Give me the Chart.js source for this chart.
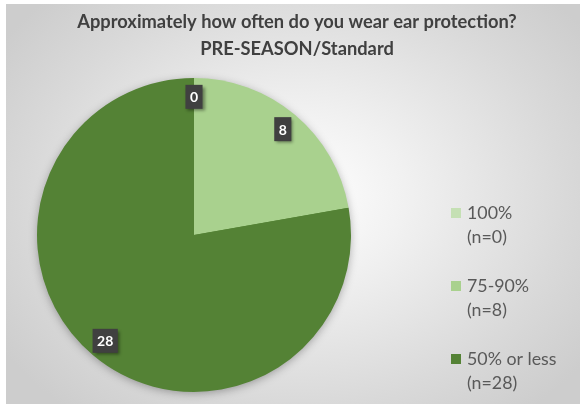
<!DOCTYPE html>
<html>
<head>
<meta charset="utf-8">
<script src="https://cdn.jsdelivr.net/npm/chart.js@4.4.1/dist/chart.umd.min.js"></script>
<style>
  html, body { margin: 0; padding: 0; background: #fff; }
  #wrap { position: relative; width: 580px; height: 404px; }
  #frame {
    position: absolute; left: 6px; top: 4px; width: 574px; height: 400px;
    background: radial-gradient(ellipse 62% 70% at 51% 48%, #ffffff 0%, #f1f1f1 30%, #d9d9d9 75%, #cdcdcd 100%);
  }
  #pieChart { position: absolute; left: 0; top: 0; }
</style>
</head>
<body>
<div id="wrap">
  <div id="frame"></div>
  <canvas id="pieChart" width="580" height="404"></canvas>
</div>
<script>
const categories = ['100%', '75-90%', '50% or less'];
const counts = [0, 8, 28];
const sliceColors = ['#c5e0b4', '#a9d18e', '#548235'];
const titleLines = ['Approximately how often do you wear ear protection?', 'PRE-SEASON/Standard'];

// soft shadow under the whole pie, drawn once before the slices
const pieShadow = {
    id: 'pieShadow',
    beforeDatasetsDraw(chart) {
        const arc = chart.getDatasetMeta(0).data[0];
        if (!arc) return;
        const { x, y, outerRadius } = arc.getProps(['x', 'y', 'outerRadius'], true);
        const ctx = chart.ctx;
        ctx.save();
        ctx.shadowColor = 'rgba(0, 0, 0, 0.35)';
        ctx.shadowBlur = 10;
        ctx.shadowOffsetY = 2;
        ctx.fillStyle = '#548235';
        ctx.beginPath();
        ctx.arc(x, y, outerRadius - 1, 0, Math.PI * 2);
        ctx.fill();
        ctx.restore();
    }
};

// dark boxed value labels, title and two-line legend
const decorations = {
    id: 'decorations',
    afterDraw(chart) {
        const ctx = chart.ctx;
        const meta = chart.getDatasetMeta(0);
        ctx.save();
        ctx.font = 'bold 14px Lato';
        ctx.textAlign = 'center';
        ctx.textBaseline = 'middle';
        meta.data.forEach((arc, i) => {
            const p = arc.getProps(['x', 'y', 'startAngle', 'endAngle', 'outerRadius'], true);
            const mid = (p.startAngle + p.endAngle) / 2;
            const r = p.outerRadius * 0.88;
            const lx = p.x + Math.cos(mid) * r;
            const ly = p.y + Math.sin(mid) * r;
            const txt = String(counts[i]);
            const w = ctx.measureText(txt).width + 9;
            const h = 24;
            ctx.save();
            ctx.shadowColor = 'rgba(0, 0, 0, 0.4)';
            ctx.shadowBlur = 3;
            ctx.shadowOffsetX = 2;
            ctx.shadowOffsetY = 2;
            ctx.fillStyle = '#404040';
            ctx.fillRect(lx - w / 2, ly - h / 2, w, h);
            ctx.restore();
            ctx.fillStyle = '#ffffff';
            ctx.fillText(txt, lx, ly + 1);
        });

        // title
        ctx.fillStyle = '#404040';
        ctx.font = 'bold 18.3px Lato';
        ctx.fillText(titleLines[0], 297, 22);
        ctx.fillText(titleLines[1], 297, 49);

        // legend
        ctx.textAlign = 'left';
        ctx.font = '17.8px Lato';
        categories.forEach((cat, i) => {
            const cy = 213 + i * 73;
            ctx.fillStyle = sliceColors[i];
            ctx.fillRect(451, cy - 5, 10, 10);
            ctx.fillStyle = '#595959';
            ctx.fillText(cat, 467, cy);
            ctx.fillText('(n=' + counts[i] + ')', 467, cy + 24);
        });
        ctx.restore();
    }
};

new Chart(document.getElementById('pieChart'), {
    type: 'pie',
    data: {
        labels: categories,
        datasets: [{
            data: counts,
            backgroundColor: sliceColors,
            borderWidth: 0
        }]
    },
    options: {
        responsive: false,
        animation: false,
        layout: { padding: { left: 37, right: 229, top: 78, bottom: 12 } },
        plugins: {
            legend: { display: false },
            title: { display: false },
            tooltip: { enabled: false }
        }
    },
    plugins: [pieShadow, decorations]
});
</script>
</body>
</html>
